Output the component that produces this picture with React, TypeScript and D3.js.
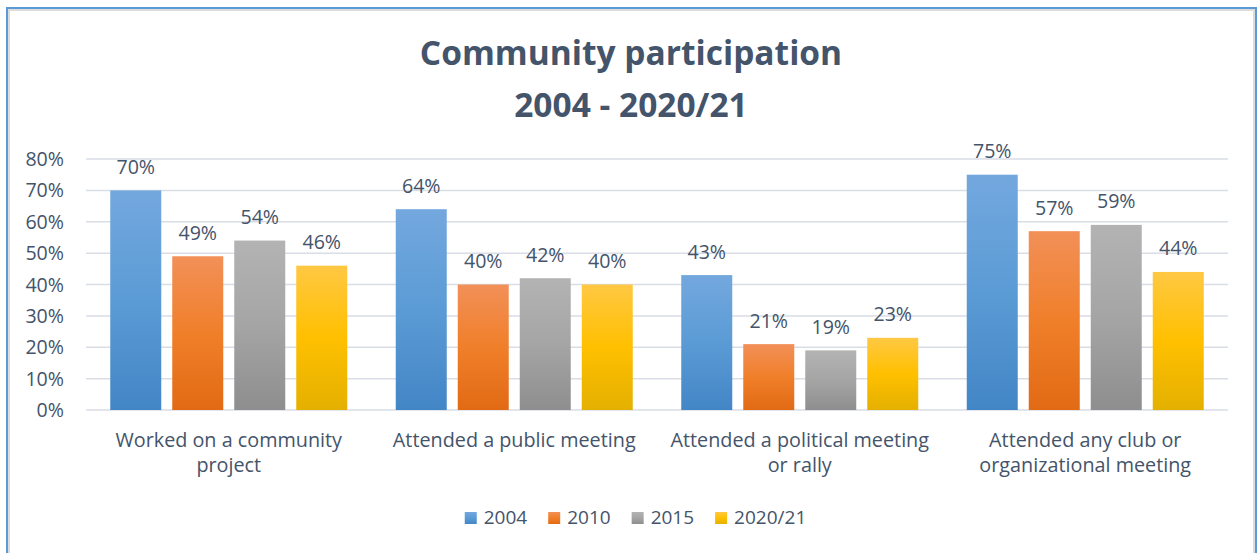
import React from "react";
import * as d3 from "d3";

const categories: string[][] = [
  ["Worked on a community", "project"],
  ["Attended a public meeting"],
  ["Attended a political meeting", "or rally"],
  ["Attended any club or", "organizational meeting"],
];
const seriesNames = ["2004", "2010", "2015", "2020/21"];
const v2004 = [70, 64, 43, 75];
const v2010 = [49, 40, 21, 57];
const v2015 = [54, 42, 19, 59];
const v2020 = [46, 40, 23, 44];
const seriesValues = [v2004, v2010, v2015, v2020];
const yTicks = [0, 10, 20, 30, 40, 50, 60, 70, 80];
const titleLines = ["Community participation", "2004 - 2020/21"];

const gradStops = [
  ["#73a8de", "#5b9bd5", "#4386c6"],
  ["#f29058", "#f07f2a", "#e26a14"],
  ["#b3b3b3", "#a5a5a5", "#8e8e8e"],
  ["#ffc843", "#ffc000", "#e4b000"],
];

const W = 1257;
const H = 553;
const FONT = "'Open Sans', sans-serif";
const TEXT = "#44546A";

function measure(text: string, font: string): number {
  const c = document.createElement("canvas");
  const ctx = c.getContext("2d");
  if (!ctx) return text.length * 10;
  ctx.font = font;
  return ctx.measureText(text).width;
}

export default function App() {
  const left = 86;
  const right = 1228;
  const x0 = d3
    .scaleBand<number>()
    .domain(d3.range(categories.length))
    .range([left, right])
    .paddingInner(0)
    .paddingOuter(0);
  const groupInner = 237;
  const x1 = d3
    .scaleBand<number>()
    .domain(d3.range(seriesNames.length))
    .range([0, groupInner])
    .paddingInner(11 / 62)
    .paddingOuter(0);
  const y = d3.scaleLinear().domain([0, 80]).range([410, 159]);

  const labelSize = 19.6;
  const legendFontSize = 19;
  const legendFont = `${legendFontSize}px 'Open Sans'`;
  const sq = 12;
  const gapSqText = 7;
  const gapItems = 21;
  const widths = seriesNames.map((s) => measure(s, legendFont));
  const itemW = widths.map((w) => sq + gapSqText + w);
  const totalLegend = d3.sum(itemW) + gapItems * (seriesNames.length - 1);
  const legendCenter = 635.5;
  let lx = legendCenter - totalLegend / 2;
  const legendX: number[] = [];
  itemW.forEach((w) => {
    legendX.push(lx);
    lx += w + gapItems;
  });

  return (
    <svg
      width={W}
      height={H}
      style={{ position: "absolute", left: 0, top: 0, background: "#fff" }}
    >
      <defs>
        {gradStops.map((st, i) => (
          <linearGradient key={i} id={`g${i}`} x1="0" y1="0" x2="0" y2="1">
            <stop offset="0%" stopColor={st[0]} />
            <stop offset="50%" stopColor={st[1]} />
            <stop offset="100%" stopColor={st[2]} />
          </linearGradient>
        ))}
      </defs>
      <rect x={0} y={0} width={W} height={H} fill="#fff" />
      {/* border */}
      <rect x={9} y={10} width={1245} height={H} fill="none" stroke="#dcdcdc" strokeWidth={2} />
      <rect x={7} y={8} width={1249} height={H} fill="none" stroke="#5b9bd5" strokeWidth={2} />

      {/* title */}
      {titleLines.map((t, i) => (
        <text
          key={i}
          x={631}
          y={65 + i * 52}
          textAnchor="middle"
          fontFamily={FONT}
          fontWeight={700}
          fontSize={33.5}
          fill={TEXT}
        >
          {t}
        </text>
      ))}

      {/* gridlines */}
      {yTicks.map((t) => (
        <line
          key={t}
          x1={left}
          x2={right}
          y1={y(t)}
          y2={y(t)}
          stroke="#d9dee6"
          strokeWidth={1.5}
        />
      ))}
      {/* y labels */}
      {yTicks.map((t) => (
        <text
          key={t}
          x={64}
          y={y(t) + 7}
          textAnchor="end"
          fontFamily={FONT}
          fontSize={labelSize}
          fill={TEXT}
        >
          {`${t}%`}
        </text>
      ))}

      {/* bars */}
      {categories.map((_, ci) => {
        const gx = (x0(ci) as number) + (x0.bandwidth() - groupInner) / 2;
        return (
          <g key={ci}>
            {seriesValues.map((vals, si) => {
              const bx = gx + (x1(si) as number);
              const v = vals[ci];
              return (
                <g key={si}>
                  <rect
                    x={bx}
                    y={y(v)}
                    width={x1.bandwidth()}
                    height={y(0) - y(v)}
                    fill={`url(#g${si})`}
                  />
                  <text
                    x={bx + x1.bandwidth() / 2}
                    y={y(v) - 16.5}
                    textAnchor="middle"
                    fontFamily={FONT}
                    fontSize={labelSize}
                    fill={TEXT}
                  >
                    {`${v}%`}
                  </text>
                </g>
              );
            })}
          </g>
        );
      })}

      {/* category labels */}
      {categories.map((lines, ci) => {
        const cx = (x0(ci) as number) + x0.bandwidth() / 2;
        return (
          <text
            key={ci}
            textAnchor="middle"
            fontFamily={FONT}
            fontSize={19.8}
            fill={TEXT}
          >
            {lines.map((l, li) => (
              <tspan key={li} x={cx} y={447 + li * 25}>
                {l}
              </tspan>
            ))}
          </text>
        );
      })}

      {/* legend */}
      {seriesNames.map((s, i) => (
        <g key={s}>
          <rect
            x={legendX[i]}
            y={512}
            width={sq}
            height={sq}
            fill={`url(#g${i})`}
          />
          <text
            x={legendX[i] + sq + gapSqText}
            y={524}
            fontFamily={FONT}
            fontSize={legendFontSize}
            fill={TEXT}
          >
            {s}
          </text>
        </g>
      ))}
    </svg>
  );
}
